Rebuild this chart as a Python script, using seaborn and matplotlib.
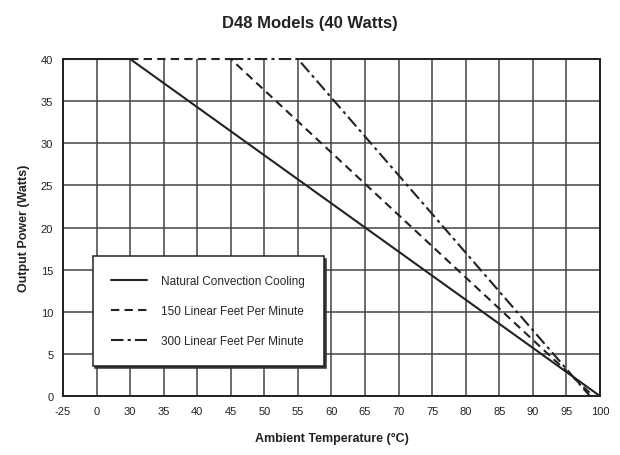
import pandas as pd
import matplotlib.pyplot as plt
import seaborn as sns

# tick labels of the (broken) temperature axis, left to right
x_labels = ["-25", "0", "30", "35", "40", "45", "50", "55", "60", "65",
            "70", "75", "80", "85", "90", "95", "100"]
y_ticks = [0, 5, 10, 15, 20, 25, 30, 35, 40]

series = ["Natural Convection Cooling", "150 Linear Feet Per Minute", "300 Linear Feet Per Minute"]
natural_t = [-25, 30, 100]
natural_p = [40, 40, 0]
lfm150_t = [30, 45, 99]
lfm150_p = [40, 40, 0]
lfm300_t = [45, 55, 98.5]
lfm300_p = [40, 40, 0]


def axis_pos(t):
    # the axis jumps: -25 and 0 sit one grid step apart before 30
    if t == -25:
        return 20
    if t == 0:
        return 25
    return t


rows = []
for name, ts, ps in [(series[0], natural_t, natural_p),
                     (series[1], lfm150_t, lfm150_p),
                     (series[2], lfm300_t, lfm300_p)]:
    for t, p in zip(ts, ps):
        rows.append({"x": axis_pos(t), "power": p, "series": name})
df = pd.DataFrame(rows)

sns.set_style("white")
plt.rcParams["font.family"] = ["Liberation Sans Narrow", "Liberation Sans", "DejaVu Sans"]

fig = plt.figure(figsize=(6.2, 4.56), dpi=100)
ax = fig.add_axes([0.1016, 0.1294, 0.866, 0.739])

sns.lineplot(data=df, x="x", y="power", hue="series", style="series",
             hue_order=series, style_order=series,
             palette=["#222222"] * 3,
             dashes=["", (4, 2.5), (6, 2, 1.5, 2)],
             linewidth=1.5, sort=False, ax=ax, zorder=3)
for ln in ax.lines:
    ln.set_clip_on(False)

x_pos = [20, 25] + list(range(30, 101, 5))
ax.set_xticks(x_pos)
ax.set_xticklabels(x_labels)
ax.set_yticks(y_ticks)
ax.set_xlim(20, 100)
ax.set_ylim(0, 40)
ax.grid(True, color="#444444", linewidth=1.1)
ax.yaxis.get_gridlines()[-1].set_visible(False)
ax.tick_params(length=0, pad=7, labelsize=8, colors="#222222")
for s in ax.spines.values():
    s.set_color("#222222")
    s.set_linewidth(1.4)
# the top frame only shows where no curve runs along it
ax.spines["top"].set_bounds(55, 100)

ax.set_xlabel("Ambient Temperature (°C)", fontsize=9, fontweight="bold", labelpad=12, color="#222222")
ax.set_ylabel("Output Power (Watts)", fontsize=9, fontweight="bold", labelpad=8, color="#222222")
fig.suptitle("D48 Models (40 Watts)", fontsize=12, fontweight="bold", y=0.965, color="#222222")

leg = ax.legend(loc="lower left", bbox_to_anchor=(0.055, 0.09), fontsize=8.5,
                frameon=True, fancybox=False,
                shadow={"color": "#333333", "alpha": 1.0},
                edgecolor="#222222", framealpha=1,
                labelspacing=1.5, borderpad=1.6,
                handlelength=3.0, handletextpad=1.2, borderaxespad=0)
leg.get_frame().set_linewidth(1.1)
for h in leg.get_lines():
    h.set_linewidth(1.5)

fig.savefig("out.png", dpi=100)
